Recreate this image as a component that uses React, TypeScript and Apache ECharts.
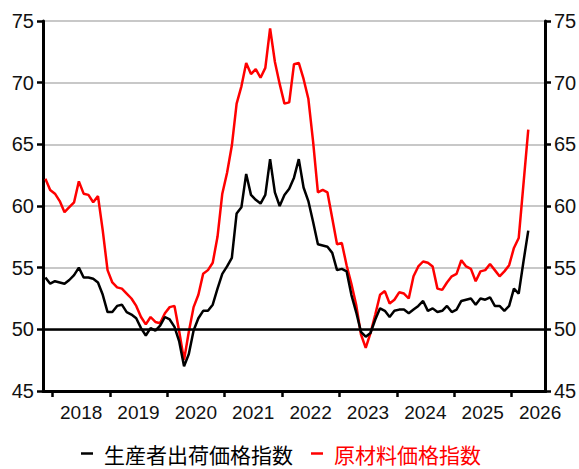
import React, { useEffect, useRef } from "react";
import * as echarts from "echarts";

// Monthly data, Nov 2017 – Apr 2026
const START_YEAR = 2017;
const START_MONTH = 11;
const AXIS_MONTHS = 105; // axis runs Nov 2017 – Jul 2026

const producerOutputIndex = [
  54.2, 53.7, 53.9, 53.8, 53.7, 54.0, 54.4, 55.0, 54.2, 54.2, 54.1, 53.8,
  52.8, 51.4, 51.4, 51.9, 52.0, 51.4, 51.2, 50.9, 50.1, 49.5, 50.1, 49.9,
  50.3, 51.0, 50.8, 50.2, 49.0, 47.0, 48.0, 49.9, 50.9, 51.5, 51.5, 52.0,
  53.3, 54.5, 55.1, 55.8, 59.4, 59.9, 62.6, 60.9, 60.5, 60.2, 60.9, 63.8,
  61.1, 60.0, 60.9, 61.4, 62.3, 63.8, 61.5, 60.4, 58.7, 56.9, 56.8, 56.7,
  56.2, 54.8, 54.9, 54.7, 52.8, 51.4, 49.8, 49.4, 49.7, 50.8, 51.7, 51.5,
  51.0, 51.5, 51.6, 51.6, 51.3, 51.6, 51.9, 52.3, 51.5, 51.7, 51.4, 51.5,
  51.9, 51.4, 51.6, 52.3, 52.4, 52.5, 52.0, 52.5, 52.4, 52.6, 51.9, 51.9,
  51.5, 51.9, 53.3, 52.9, 55.5, 58.0,
];

const rawMaterialIndex = [
  62.2, 61.3, 61.0, 60.4, 59.5, 59.9, 60.3, 62.0, 61.0, 60.9, 60.3, 60.8,
  58.0, 54.8, 53.8, 53.4, 53.3, 52.9, 52.5, 51.9, 51.0, 50.4, 51.0, 50.6,
  50.5, 51.3, 51.8, 51.9, 49.8, 47.5, 49.8, 51.8, 52.8, 54.5, 54.8, 55.4,
  57.5, 61.0, 62.7, 64.9, 68.3, 69.7, 71.6, 70.7, 71.1, 70.4, 71.2, 74.4,
  71.7, 69.9, 68.3, 68.4, 71.5, 71.6, 70.3, 68.7, 65.2, 61.1, 61.3, 61.1,
  59.0, 56.9, 57.0, 55.2, 53.7, 52.0, 49.6, 48.5, 49.7, 51.2, 52.8, 53.1,
  52.1, 52.4, 53.0, 52.9, 52.5, 54.3, 55.1, 55.5, 55.4, 55.1, 53.3, 53.2,
  53.8, 54.3, 54.5, 55.6, 55.1, 54.9, 53.9, 54.7, 54.8, 55.3, 54.8, 54.3,
  54.7, 55.2, 56.6, 57.4, 61.8, 66.2,
];

const yearLabels = ["2018", "2019", "2020", "2021", "2022", "2023", "2024", "2025", "2026"];
const seriesNames = ["生産者出荷価格指数", "原材料価格指数"];
const Y_MIN = 45;
const Y_MAX = 75;
const Y_STEP = 5;
const BASE_LINE = 50;

const months: string[] = Array.from({ length: AXIS_MONTHS }, (_, k) => {
  const m = START_MONTH - 1 + k;
  const y = START_YEAR + Math.floor(m / 12);
  const mm = (m % 12) + 1;
  return `${y}-${String(mm).padStart(2, "0")}`;
});

const NUM_FONT = "'Liberation Sans', Arial, sans-serif";
const CJK_FONT = "'Noto Sans CJK JP', 'Noto Sans', sans-serif";

export default function App() {
  const ref = useRef<HTMLDivElement>(null);

  useEffect(() => {
    if (!ref.current) return;
    const chart = echarts.init(ref.current, undefined, { renderer: "svg" });

    const yAxisCommon = {
      type: "value",
      min: Y_MIN,
      max: Y_MAX,
      interval: Y_STEP,
      axisLine: { show: true, lineStyle: { color: "#000", width: 3 } },
      axisTick: { show: true, length: 6, lineStyle: { color: "#000", width: 2.5 } },
      axisLabel: { color: "#111", fontSize: 20, fontFamily: NUM_FONT, margin: 9 },
    };

    chart.setOption({
      animation: false,
      backgroundColor: "#fff",
      grid: { left: 43, right: 34, top: 21, bottom: 78, containLabel: false, outerBoundsMode: "none" },
      legend: {
        left: 76,
        top: 438,
        icon: "rect",
        itemWidth: 12,
        itemHeight: 2.5,
        itemGap: 18,
        textStyle: { fontSize: 21, fontFamily: CJK_FONT, padding: [0, 0, 0, 6] },
        data: [
          { name: seriesNames[0], textStyle: { color: "#000" } },
          { name: seriesNames[1], textStyle: { color: "#ff0000" } },
        ],
      },
      xAxis: {
        type: "category",
        data: months,
        boundaryGap: true,
        axisLine: { show: true, onZero: false, lineStyle: { color: "#000", width: 3 } },
        axisTick: {
          show: true,
          length: 6,
          interval: (_i: number, v: string) => v.endsWith("-01"),
          lineStyle: { color: "#000", width: 2.5 },
        },
        axisLabel: {
          interval: (_i: number, v: string) => v.endsWith("-07"),
          formatter: (v: string) => yearLabels.find((y) => v.startsWith(y)) ?? "",
          color: "#111",
          fontSize: 19,
          fontFamily: NUM_FONT,
          margin: 12,
          padding: [0, 5, 0, 0],
        },
        splitLine: { show: false },
      },
      yAxis: [
        {
          ...yAxisCommon,
          position: "left",
          splitLine: { show: true, lineStyle: { color: "#c8c8c8", width: 2 } },
        },
        {
          ...yAxisCommon,
          position: "right",
          splitLine: { show: false },
        },
      ],
      graphic: [
        { type: "rect", shape: { x: 543, y: 393, width: 6, height: 8 }, style: { fill: "#fff" }, z: 100 },
      ],
      series: [
        {
          name: seriesNames[1],
          type: "line",
          data: rawMaterialIndex,
          showSymbol: false,
          symbol: "none",
          lineStyle: { color: "#ff0000", width: 2.5 },
          itemStyle: { color: "#ff0000" },
          z: 3,
        },
        {
          name: seriesNames[0],
          type: "line",
          data: producerOutputIndex,
          showSymbol: false,
          symbol: "none",
          lineStyle: { color: "#000", width: 2.5 },
          itemStyle: { color: "#000" },
          z: 4,
          markLine: {
            silent: true,
            symbol: "none",
            label: { show: false },
            lineStyle: { color: "#000", width: 2.5, type: "solid" },
            data: [{ yAxis: BASE_LINE }],
          },
        },
      ],
    });

    return () => chart.dispose();
  }, []);

  return (
    <div
      ref={ref}
      style={{ position: "fixed", left: 0, top: 0, width: 579, height: 469, background: "#fff" }}
    />
  );
}
